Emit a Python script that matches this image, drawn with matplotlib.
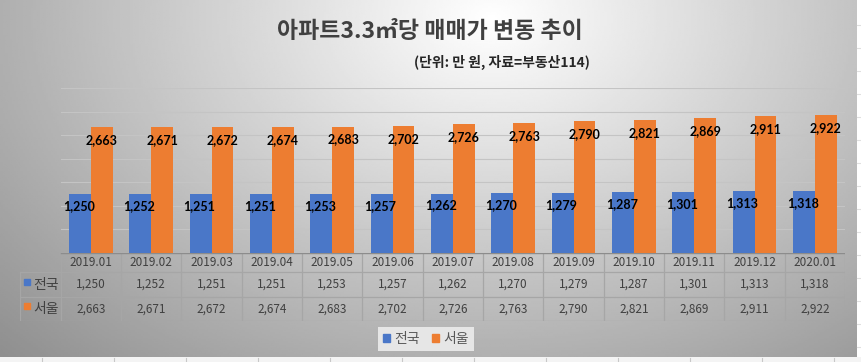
import numpy as np
import matplotlib
matplotlib.use("Agg")
import matplotlib.pyplot as plt
from matplotlib.patches import Patch, Rectangle

plt.rcParams['font.family'] = ['Noto Sans CJK KR', 'DejaVu Sans']

# data (만 원 per 3.3㎡, 부동산114)
months = ['2019.01', '2019.02', '2019.03', '2019.04', '2019.05', '2019.06', '2019.07',
          '2019.08', '2019.09', '2019.10', '2019.11', '2019.12', '2020.01']
national = [1250, 1252, 1251, 1251, 1253, 1257, 1262, 1270, 1279, 1287, 1301, 1313, 1318]
seoul = [2663, 2671, 2672, 2674, 2683, 2702, 2726, 2763, 2790, 2821, 2869, 2911, 2922]
series_names = ['전국', '서울']

blue = '#4a77c8'
orange = '#ED7D31'
txt = '#404040'

W, H = 862, 362
fig = plt.figure(figsize=(W / 100, H / 100), dpi=100)

# background: soft radial grey gradient like the excel chart area
bg = fig.add_axes([0, 0, 1, 1], zorder=0)
gx, gy = np.meshgrid(np.linspace(0, 1, 400), np.linspace(0, 1, 200))
d = np.sqrt(((gx - 0.57) / 0.6) ** 2 + ((gy - 0.05) / 1.0) ** 2)
shade = np.clip(1.0 - 0.33 * d, 0, 1)
bg.imshow(shade, cmap='gray', vmin=0, vmax=1, extent=[0, W, H, 0], aspect='auto')
bg.set_xlim(0, W)
bg.set_ylim(H, 0)
bg.axis('off')
# bits of the spreadsheet showing at the right and bottom edges
bg.add_patch(Rectangle((857, 0), 5, H, color='white', lw=0))
bg.add_patch(Rectangle((0, 357), W, 5, color='#f4f4f4', lw=0))
for xx in range(42, 857, 72):
    bg.plot([xx, xx], [358, 362], color='#c8c8c8', lw=0.8)
for yy in range(25, 357, 23):
    bg.plot([857, 862], [yy, yy], color='#e0e0e0', lw=0.8)

bg.text(430, 31, '아파트3.3㎡당 매매가 변동 추이', ha='center', va='center',
        fontsize=16.5, fontweight='bold', color=txt)
bg.text(502, 62, '(단위: 만 원, 자료=부동산114)', ha='center', va='center',
        fontsize=10, fontweight='bold', color='#262626')

# bar area
x0, x1 = 60.7, 845
ax = fig.add_axes([x0 / W, 1 - 253 / H, (x1 - x0) / W, (253 - 88) / H], zorder=1)
ax.patch.set_alpha(0)
x = np.arange(len(months))
bw = 0.36
ax.bar(x - 0.18, national, bw, color=blue, zorder=3)
ax.bar(x + 0.18, seoul, bw, color=orange, zorder=3)
ax.set_xlim(-0.5, len(months) - 0.5)
ax.set_ylim(0, 3500)
ax.set_yticks(np.arange(0, 3501, 500))
ax.grid(axis='y', color='#c4c4c4', lw=0.8, zorder=0)
ax.set_xticks([])
ax.tick_params(left=False, labelleft=False)
for s in ax.spines.values():
    s.set_visible(False)

for i in range(len(months)):
    ax.annotate(f'{national[i]:,}', (x[i] - 0.2, national[i]), xytext=(0, -12),
                textcoords='offset pixels', ha='center', va='center',
                fontsize=9, fontweight='bold', color='black', family='Lato', zorder=4)
    ax.annotate(f'{seoul[i]:,}', (x[i] + 0.18, seoul[i]), xytext=(0, -13),
                textcoords='offset pixels', ha='center', va='center',
                fontsize=9, fontweight='bold', color='black', family='Lato', zorder=4)

# data table under the bars
unit = (x1 - x0) / len(months)
tleft = -0.5 - (x0 - 20) / unit
tab = fig.add_axes([20 / W, 1 - 321 / H, (x1 - 20) / W, (321 - 253) / H], zorder=1)
tab.set_xlim(tleft, len(months) - 0.5)
tab.set_ylim(68, 0)
tab.axis('off')
line = '#a6a6a6'
edges = np.arange(len(months) + 1) - 0.5
for e in edges:
    tab.plot([e, e], [0, 68], color=line, lw=0.9)
tab.plot([tleft, tleft], [19, 68], color=line, lw=0.9)
tab.plot([-0.5, len(months) - 0.5], [0, 0], color='#8c8c8c', lw=1.0)
for yy in [19, 44, 68]:
    tab.plot([tleft, len(months) - 0.5], [yy, yy], color=line, lw=0.9)

for i, m in enumerate(months):
    tab.text(i, 9.5, m, ha='center', va='center', fontsize=8.5, color=txt)
    tab.text(i, 31.5, f'{national[i]:,}', ha='center', va='center', fontsize=8.5, color=txt)
    tab.text(i, 56, f'{seoul[i]:,}', ha='center', va='center', fontsize=8.5, color=txt)

for yy, name, col in [(31.5, series_names[0], blue), (56, series_names[1], orange)]:
    tab.plot([tleft + 0.12], [yy - 3], marker='s', ms=4, color=col, ls='none')
    tab.text(tleft + 0.22, yy, name, ha='left', va='center', fontsize=10, color=txt)

handles = [Patch(color=blue), Patch(color=orange)]
leg = fig.legend(handles, series_names, loc='center', bbox_to_anchor=(426 / W, 1 - 339 / H),
                 ncol=2, frameon=True, facecolor='#e6e6e6', edgecolor='none', framealpha=1,
                 handlelength=0.5, handleheight=0.5, handletextpad=0.3, columnspacing=0.9,
                 fontsize=10, borderpad=0.35, fancybox=False)
for t in leg.get_texts():
    t.set_color('#595959')

fig.savefig('out.png', dpi=100)
